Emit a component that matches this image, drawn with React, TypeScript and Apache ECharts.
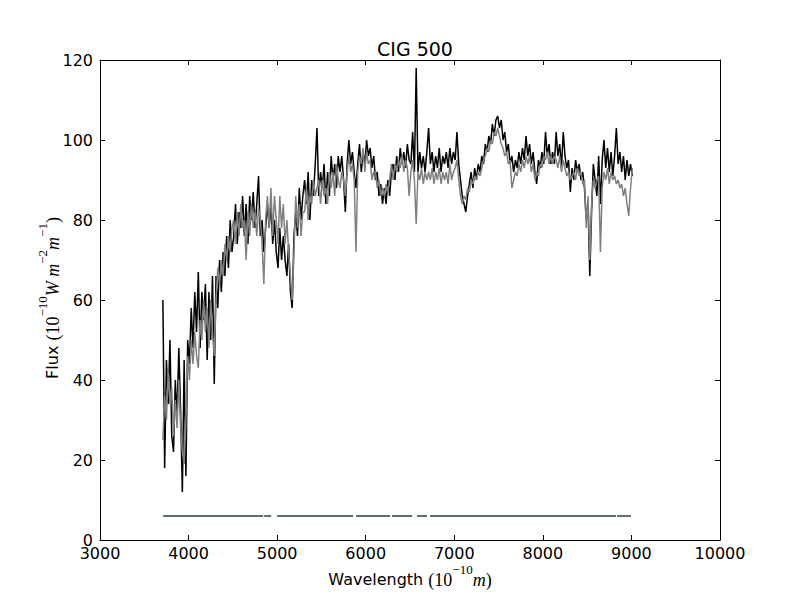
import React, { useEffect, useRef } from "react";
import * as echarts from "echarts";

const wavelengths = [
  3710, 3730, 3750, 3770, 3790, 3810, 3830, 3850, 3870, 3890,
  3910, 3930, 3950, 3970, 3990, 4010, 4030, 4050, 4070, 4090,
  4110, 4130, 4150, 4170, 4190, 4210, 4230, 4250, 4270, 4290,
  4310, 4330, 4350, 4370, 4390, 4410, 4430, 4450, 4470, 4490,
  4510, 4530, 4550, 4570, 4590, 4610, 4630, 4650, 4670, 4690,
  4710, 4730, 4750, 4770, 4790, 4810, 4830, 4850, 4870, 4890,
  4910, 4930, 4950, 4970, 4990, 5010, 5030, 5050, 5070, 5090,
  5110, 5130, 5150, 5170, 5190, 5210, 5230, 5250, 5270, 5290,
  5310, 5330, 5350, 5370, 5390, 5410, 5430, 5450, 5470, 5490,
  5510, 5530, 5550, 5570, 5590, 5610, 5630, 5650, 5670, 5690,
  5710, 5730, 5750, 5770, 5790, 5810, 5830, 5850, 5870, 5890,
  5910, 5930, 5950, 5970, 5990, 6010, 6030, 6050, 6070, 6090,
  6110, 6130, 6150, 6170, 6190, 6210, 6230, 6250, 6270, 6290,
  6310, 6330, 6350, 6370, 6390, 6410, 6430, 6450, 6470, 6490,
  6510, 6530, 6550, 6570, 6590, 6610, 6630, 6650, 6670, 6690,
  6710, 6730, 6750, 6770, 6790, 6810, 6830, 6850, 6870, 6890,
  6910, 6930, 6950, 6970, 6990, 7010, 7030, 7050, 7070, 7090,
  7110, 7130, 7150, 7170, 7190, 7210, 7230, 7250, 7270, 7290,
  7310, 7330, 7350, 7370, 7390, 7410, 7430, 7450, 7470, 7490,
  7510, 7530, 7550, 7570, 7590, 7610, 7630, 7650, 7670, 7690,
  7710, 7730, 7750, 7770, 7790, 7810, 7830, 7850, 7870, 7890,
  7910, 7930, 7950, 7970, 7990, 8010, 8030, 8050, 8070, 8090,
  8110, 8130, 8150, 8170, 8190, 8210, 8230, 8250, 8270, 8290,
  8310, 8330, 8350, 8370, 8390, 8410, 8430, 8450, 8470, 8490,
  8510, 8530, 8550, 8570, 8590, 8610, 8630, 8650, 8670, 8690,
  8710, 8730, 8750, 8770, 8790, 8810, 8830, 8850, 8870, 8890,
  8910, 8930, 8950, 8970, 8990, 9010,
];

const fluxBlack = [
  60, 18, 45, 34, 50, 26, 22, 40, 31, 48,
  32, 12, 45, 16, 50, 44, 58, 48, 62, 52,
  67, 48, 62, 55, 64, 45, 62, 50, 66, 39,
  66, 58, 70, 62, 72, 66, 76, 68, 80, 72,
  76, 84, 74, 82, 78, 86, 76, 84, 74, 86,
  80, 87, 78, 84, 91, 76, 80, 72, 78, 84,
  78, 84, 74, 80, 72, 68, 78, 70, 76, 70,
  66, 74, 62, 58, 76, 82, 76, 88, 80, 86,
  90, 84, 92, 80, 90, 86, 94, 103, 86, 92,
  88, 94, 84, 92, 86, 96, 90, 94, 88, 96,
  92, 96, 90, 82, 94, 100, 94, 97, 92, 88,
  94, 99, 92, 97, 94, 100, 96, 98, 93, 96,
  90, 92, 86, 89, 84, 88, 84, 90, 86, 92,
  94, 90, 96, 92, 98, 94, 97, 93, 99, 95,
  94, 102, 92, 118, 92, 97, 93, 96, 92, 97,
  103, 94, 97, 92, 96, 93, 98, 92, 96, 94,
  97, 93, 98, 94, 97, 95, 102, 94, 90, 86,
  84, 82, 86, 89, 92, 88, 93, 90, 94, 92,
  96, 94, 99, 97, 101, 99, 104, 101, 105, 106,
  103, 105, 100, 102, 97, 99, 94, 96, 92, 95,
  93, 97, 94, 98, 95, 101, 96, 99, 94, 97,
  92, 89, 95, 93, 97, 94, 102, 96, 99, 94,
  97, 94, 102, 96, 99, 93, 102, 96, 93, 95,
  87, 93, 90, 95, 92, 94, 90, 92, 88, 80,
  84, 66, 82, 94, 90, 86, 96, 84, 95, 100,
  93, 98, 92, 97, 91, 96, 103, 94, 97, 92,
  96, 90, 95, 91, 94, 91,
];

const fluxGray = [
  25, 36, 30, 42, 34, 38, 26, 35, 28, 40,
  28, 22, 19, 30, 46, 40, 50, 44, 52, 46,
  43, 55, 50, 60, 52, 58, 48, 60, 52, 46,
  60, 68, 64, 70, 66, 74, 70, 76, 72, 78,
  80, 74, 82, 76, 84, 78, 80, 70, 82, 76,
  84, 78, 82, 76, 83, 80, 74, 64, 80, 86,
  78, 88, 76, 86, 80, 74, 86, 78, 84, 74,
  80, 72, 66, 60, 72, 86, 78, 84, 76, 82,
  82, 88, 80, 86, 84, 90, 86, 88, 90, 84,
  90, 86, 88, 84, 92, 88, 92, 86, 94, 90,
  88, 92, 90, 86, 92, 96, 92, 94, 90, 72,
  92, 96, 94, 98, 92, 97, 94, 95, 90, 92,
  92, 88, 90, 86, 88, 86, 89, 87, 90, 94,
  90, 94, 92, 95, 93, 96, 92, 95, 93, 86,
  92, 95, 90, 79, 92, 90, 93, 89, 92, 90,
  92, 90, 93, 89, 92, 90, 93, 89, 92, 90,
  92, 89, 94, 90, 92, 93, 95, 90, 86, 84,
  86, 85, 88, 87, 90, 89, 91, 90, 92, 91,
  93, 95, 96, 98, 97, 100, 99, 102, 101, 103,
  101, 99, 98, 96, 97, 94, 95, 88, 90, 92,
  91, 94, 92, 95, 93, 96, 94, 96, 92, 94,
  90, 92, 91, 94, 93, 96, 95, 97, 94, 96,
  94, 96, 95, 93, 96, 92, 95, 93, 91, 92,
  90, 91, 92, 90, 93, 91, 92, 89, 90, 78,
  86, 70, 84, 90, 88, 90, 91, 72, 88, 92,
  90, 93, 89, 92, 90, 91, 89, 90, 88, 89,
  86, 88, 84, 81, 88, 93,
];

const maskStarts = [3713, 4853, 5000, 5892, 6298, 6580, 6727, 8837];
const maskEnds = [4842, 4932, 5858, 6275, 6524, 6693, 8826, 8995];
const maskLevel = 6;

const xTicks = { min: 3000, max: 10000, interval: 1000 };
const yTicks = { min: 0, max: 120, interval: 20 };

export default function App() {
  const ref = useRef<HTMLDivElement>(null);

  useEffect(() => {
    document.body.style.margin = "0";
    if (!ref.current) return;
    const chart = echarts.init(ref.current, null, { renderer: "svg" });

    const blackData = wavelengths.map((w, i) => [w, fluxBlack[i]]);
    const grayData = wavelengths.map((w, i) => [w, fluxGray[i]]);
    const maskData: any[] = [];
    maskStarts.forEach((s, i) => {
      maskData.push([s, maskLevel]);
      maskData.push([maskEnds[i], maskLevel]);
      maskData.push([maskEnds[i], "-"]);
    });

    const sans = "DejaVu Sans";
    const serif = "Liberation Serif";
    const base = { fontFamily: serif, fontSize: 18, color: "#000", verticalAlign: "bottom", lineHeight: 26 };
    const sup = { fontFamily: serif, fontSize: 13, color: "#000", verticalAlign: "top", lineHeight: 26 };
    const rich = {
      s: { fontFamily: sans, fontSize: 16, color: "#000", verticalAlign: "bottom", lineHeight: 26, padding: [0, 0, 2, 0] },
      r: base,
      i: { ...base, fontStyle: "italic" },
      p: sup,
    };

    const axisCommon = {
      type: "value" as const,
      axisLine: { show: true, onZero: false, lineStyle: { color: "#000", width: 1 } },
      axisTick: { show: true, inside: true, length: 5, lineStyle: { color: "#000", width: 1 } },
      splitLine: { show: false },
    };
    const plain = (v: number) => String(v);

    chart.setOption({
      animation: false,
      title: {
        text: "CIG 500",
        left: 410,
        top: 34,
        textAlign: "center",
        textStyle: { fontFamily: sans, fontSize: 19, fontWeight: "normal", color: "#000" },
      },
      grid: { left: 100, right: 80, top: 60, bottom: 60, containLabel: false },
      xAxis: [
        {
          ...axisCommon,
          position: "bottom",
          ...xTicks,
          axisLabel: { fontFamily: sans, fontSize: 16, color: "#000", margin: 5, formatter: plain },
        },
        {
          ...axisCommon,
          position: "top",
          ...xTicks,
          axisLabel: { show: false },
        },
      ],
      yAxis: [
        {
          ...axisCommon,
          position: "left",
          ...yTicks,
          axisLabel: { fontFamily: sans, fontSize: 16, color: "#000", margin: 7, formatter: plain },
        },
        {
          ...axisCommon,
          position: "right",
          ...yTicks,
          axisLabel: { show: false },
        },
      ],
      graphic: [
        {
          type: "text",
          x: 410,
          y: 576,
          style: {
            text: "{s|Wavelength }{r|(10}{p|−10}{i|m}{r|)}",
            rich,
            align: "center",
            verticalAlign: "middle",
          },
        },
        {
          type: "text",
          x: 49,
          y: 298,
          rotation: Math.PI / 2,
          style: {
            text: "{s|Flux }{r|(10}{p|−10}{i|W m}{p|−2}{i|m}{p|−1}{r|)}",
            rich,
            align: "center",
            verticalAlign: "middle",
          },
        },
      ],
      series: [
        {
          type: "line",
          data: blackData,
          showSymbol: false,
          symbol: "none",
          lineStyle: { color: "#000", width: 1.5 },
          itemStyle: { color: "#000" },
          z: 2,
        },
        {
          type: "line",
          data: grayData,
          showSymbol: false,
          symbol: "none",
          lineStyle: { color: "#808080", width: 1.5 },
          itemStyle: { color: "#808080" },
          z: 3,
        },
        {
          type: "line",
          data: maskData,
          showSymbol: false,
          symbol: "none",
          connectNulls: false,
          lineStyle: { color: "#5f6f70", width: 2 },
          itemStyle: { color: "#5f6f70" },
          z: 4,
        },
      ],
    });

    return () => chart.dispose();
  }, []);

  return <div ref={ref} style={{ width: 800, height: 600 }} />;
}
